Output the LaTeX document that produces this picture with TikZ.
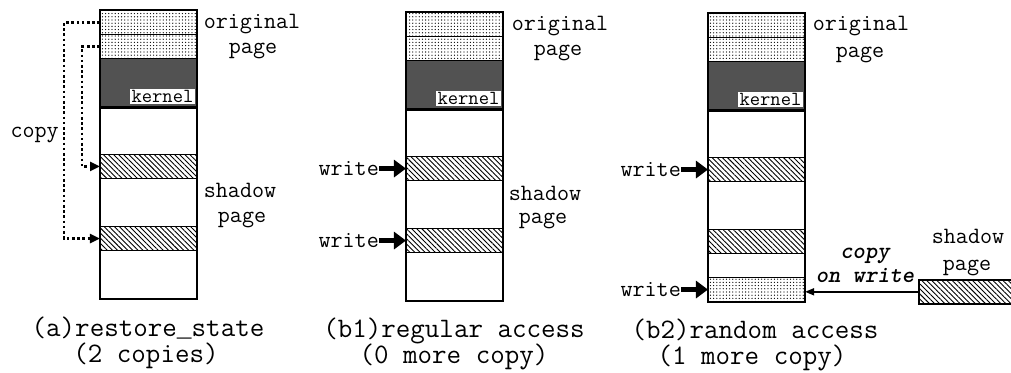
\documentclass[tikz,border=0pt]{standalone}
\usepackage{fontspec}
\newfontfamily\usfont{Liberation Mono}
\usetikzlibrary{patterns,patterns.meta,arrows.meta}
\tikzset{
  pg/.style={draw, line width=1.1pt, minimum width=96pt, inner sep=0pt, anchor=north},
  sm/.style={pg, minimum height=24pt},
  bg/.style={pg, minimum height=48pt},
  orig/.style={sm, pattern={Dots[distance=3.2pt, radius=0.65pt]}},
  hatch/.style={sm, pattern={Lines[angle=-45, distance=3.6pt, line width=0.9pt]}},
  kern/.style={bg, fill=black!68},
  outer/.style={draw, line width=1.6pt},
  lab/.style={font=\ttfamily\fontsize{23.4}{25}\selectfont, inner sep=0pt, anchor=base},
  captxt/.style={font=\ttfamily\fontsize{28.2}{30}\selectfont, inner sep=0pt, anchor=base},
  klab/.style={font=\ttfamily\fontsize{20}{21}\selectfont, fill=white, inner sep=1.5pt, anchor=south east},
  warr/.style={line width=5.5pt, -{Triangle[length=12pt,width=17pt]}},
  cparr/.style={line width=2.3pt, dash pattern=on 2.6pt off 2.6pt, -{Triangle[length=10pt,width=9pt]}},
  cowarr/.style={line width=1.5pt, -{Triangle[length=9pt,width=7pt]}},
}
\begin{document}
\begin{tikzpicture}[x=1pt,y=-1pt]
\useasboundingbox[fill=white] (0,0) rectangle (1011,372);
% ---------- column (a)
\node[orig] (a1) at (148.5,10) {};
\node[orig] (a2) at (148.5,34) {};
\node[kern] (a3) at (148.5,58) {};
\node[bg]   (a4) at (148.5,106) {};
\node[hatch](a5) at (148.5,154) {};
\node[bg]   (a6) at (148.5,178) {};
\node[hatch](a7) at (148.5,226) {};
\node[bg]   (a8) at (148.5,250) {};
\draw[line width=3.2pt] (a3.south west) -- (a3.south east);
\node[klab] (ak) at ([xshift=-2pt,yshift=3pt]a3.south east) {kernel};
\draw[outer] (a1.north west) rectangle (a8.south east);
\draw[cparr] (a1.west) -- ++(-36,0) coordinate (ac) |- (a7.west);
\draw[cparr] (a2.west) -- ++(-18,0) |- (a5.west);
\node[lab, anchor=base east] (copy) at (59,137) {copy};
\node[lab] (ao1) at (252,28) {original};
\node[lab] (ao2) at (253,53) {page};
\node[lab] (as1) at (240,197) {shadow};
\node[lab] (as2) at (242,222) {page};
\node[captxt] (ac1) at (148,336) {(a)restore{\usfont\fontsize{24.7}{30}\selectfont\_}state};
\node[captxt] (ac2) at (146,362) {(2 copies)};
% ---------- column (b1)
\node[orig] (b1) at (454.5,12) {};
\node[orig] (b2) at (454.5,36) {};
\node[kern] (b3) at (454.5,60) {};
\node[bg]   (b4) at (454.5,108) {};
\node[hatch](b5) at (454.5,156) {};
\node[bg]   (b6) at (454.5,180) {};
\node[hatch](b7) at (454.5,228) {};
\node[bg]   (b8) at (454.5,252) {};
\draw[line width=3.2pt] (b3.south west) -- (b3.south east);
\node[klab] (bk) at ([xshift=-2pt,yshift=3pt]b3.south east) {kernel};
\draw[outer] (b1.north west) rectangle (b8.south east);
\node[lab, anchor=base east] (bw1) at (379,175) {write};
\node[lab, anchor=base east] (bw2) at (379,247) {write};
\draw[warr] (b5.west -| bw1.east) -- (b5.west);
\draw[warr] (b7.west -| bw2.east) -- (b7.west);
\node[lab] (bo1) at (560,30) {original};
\node[lab] (bo2) at (558,55) {page};
\node[lab] (bs1) at (545,200) {shadow};
\node[lab] (bs2) at (543,223) {page};
\node[captxt] (bc1) at (454,337) {(b1)regular access};
\node[captxt] (bc2) at (454,363) {(0 more copy)};
% ---------- column (b2)
\node[orig] (c1) at (756.5,13) {};
\node[orig] (c2) at (756.5,37) {};
\node[kern] (c3) at (756.5,61) {};
\node[bg]   (c4) at (756.5,109) {};
\node[hatch](c5) at (756.5,157) {};
\node[bg]   (c6) at (756.5,181) {};
\node[hatch](c7) at (756.5,229) {};
\node[sm]   (c8) at (756.5,253) {};
\node[orig] (c9) at (756.5,277) {};
\draw[line width=3.2pt] (c3.south west) -- (c3.south east);
\node[klab] (ck) at ([xshift=-2pt,yshift=3pt]c3.south east) {kernel};
\draw[outer] (c1.north west) rectangle (c9.south east);
\node[lab, anchor=base east] (cw1) at (681,176) {write};
\node[lab, anchor=base east] (cw2) at (681,296) {write};
\draw[warr] (c5.west -| cw1.east) -- (c5.west);
\draw[warr] (c9.west -| cw2.east) -- (c9.west);
\node[lab] (co1) at (861,30) {original};
\node[lab] (co2) at (860,57) {page};
\node[captxt] (cc1) at (755,338) {(b2)random access};
\node[captxt] (cc2) at (752,364) {(1 more copy)};
% ---------- separate shadow page
\node[hatch, anchor=north west, minimum width=100pt, line width=1.6pt] (sp) at (918,279) {};
\node[lab] (ss1) at (968,243) {shadow};
\node[lab] (ss2) at (967,270) {page};
\draw[cowarr] (sp.west) -- (sp.west -| c9.east);
\node[lab, font=\ttfamily\bfseries\itshape\fontsize{23.4}{25}\selectfont] (cw) at (865,258) {copy};
\node[lab, font=\ttfamily\bfseries\itshape\fontsize{23.4}{25}\selectfont] (ow) at (865,282) {on write};
\end{tikzpicture}
\end{document}
